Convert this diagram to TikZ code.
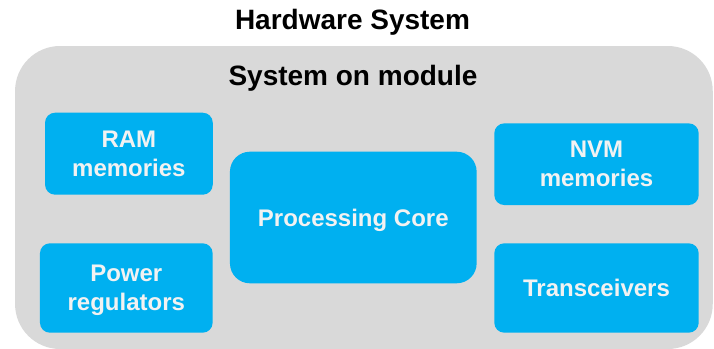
\documentclass[tikz,border=0pt]{standalone}
\usepackage{fontspec}
\setmainfont{Liberation Sans}
\definecolor{boxblue}{HTML}{00B0F0}
\definecolor{modgray}{HTML}{D9D9D9}
\definecolor{boxtext}{HTML}{F2F2F2}

\begin{document}
\begin{tikzpicture}[x=1pt, y=-1pt,
    part/.style={fill=boxblue, rounded corners=10pt, text=boxtext, inner sep=0pt,
        font=\fontsize{24}{29}\selectfont\bfseries, align=center, text depth=0pt},
    heading/.style={font=\fontsize{28}{34}\selectfont\bfseries, anchor=base}]
    \useasboundingbox (0,0) rectangle (714,348);
    % module background
    \node[fill=modgray, rounded corners=45pt, inner sep=0pt,
        minimum width=697.7pt, minimum height=303pt] (som) at (363.9,197.5) {};
    \node[heading] (hwtitle) at (352.5,29.3) {Hardware System};
    \node[heading] (somtitle) at (353,85) {System on module};
    % parts on the module
    \node[part, minimum width=167.7pt, minimum height=82pt] (ram) at (128.9,153.7) {RAM\\memories};
    \node[part, minimum width=172.7pt, minimum height=89.4pt] (power) at (126.3,288) {Power\\regulators};
    \node[part, rounded corners=20pt, minimum width=246.7pt, minimum height=131.6pt] (core) at (353.3,217.5) {Processing Core};
    \node[part, minimum width=204.4pt, minimum height=81.7pt] (nvm) at (596.5,164.2) {NVM\\memories};
    \node[part, minimum width=204.4pt, minimum height=89.4pt] (trx) at (596.5,288) {Transceivers};
\end{tikzpicture}
\end{document}
